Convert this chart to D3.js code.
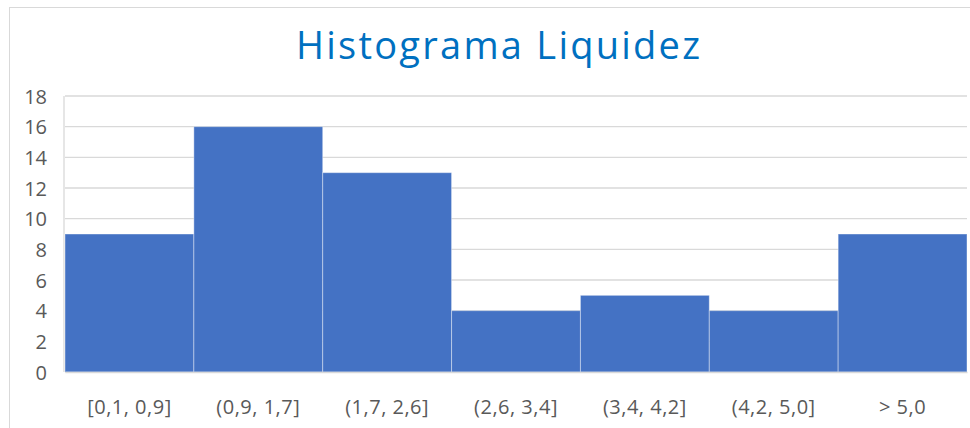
<!DOCTYPE html>
<html>
<head>
<meta charset="utf-8">
<script src="https://cdn.jsdelivr.net/npm/d3@7"></script>
<style>
  html, body { margin: 0; padding: 0; background: #fff; }
  svg { display: block; }
</style>
</head>
<body>
<svg id="chart" width="970" height="428"></svg>
<script>
const categories = ["[0,1, 0,9]", "(0,9, 1,7]", "(1,7, 2,6]", "(2,6, 3,4]", "(3,4, 4,2]", "(4,2, 5,0]", "> 5,0"];
const counts = [9, 16, 13, 4, 5, 4, 9];
const yTicks = [0, 2, 4, 6, 8, 10, 12, 14, 16, 18];
const title = "Histograma Liquidez";

const svg = d3.select("#chart");
const W = 970, H = 428;
const margin = { left: 65, right: 3, top: 96, bottom: 56 };

// outer chart border
svg.append("rect")
  .attr("x", 9.5).attr("y", 7.5)
  .attr("width", 1000).attr("height", 500)
  .attr("fill", "#fff")
  .attr("stroke", "#d9d9d9").attr("stroke-width", 1);

const x = d3.scaleBand()
  .domain(categories)
  .range([margin.left, W - margin.right])
  .padding(0);

const y = d3.scaleLinear()
  .domain([0, 18])
  .range([H - margin.bottom, margin.top]);

// gridlines
svg.append("g")
  .selectAll("line")
  .data(yTicks)
  .join("line")
  .attr("x1", margin.left).attr("x2", W - margin.right)
  .attr("y1", d => y(d)).attr("y2", d => y(d))
  .attr("stroke", "#d9d9d9").attr("stroke-width", 1.3);

// left axis line
svg.append("line")
  .attr("x1", margin.left - 1).attr("x2", margin.left - 1)
  .attr("y1", y(18)).attr("y2", y(0))
  .attr("stroke", "#d9d9d9").attr("stroke-width", 1.3);

// bars
svg.append("g")
  .selectAll("rect")
  .data(counts)
  .join("rect")
  .attr("x", (d, i) => x(categories[i]))
  .attr("y", d => y(d))
  .attr("width", x.bandwidth())
  .attr("height", d => y(0) - y(d))
  .attr("fill", "#4472c4")
  .attr("stroke", "rgba(255,255,255,0.4)")
  .attr("stroke-width", 1);

// y axis
const yAxis = d3.axisLeft(y).tickValues(yTicks).tickSize(0).tickPadding(0);
const gy = svg.append("g")
  .attr("transform", `translate(47,0)`)
  .call(yAxis);
gy.select(".domain").remove();
gy.selectAll("text")
  .attr("fill", "#595959")
  .attr("font-family", "'Open Sans', sans-serif")
  .attr("font-size", 20)
  .attr("dy", "0.36em");

// x axis
const xAxis = d3.axisBottom(x).tickSize(0).tickPadding(0);
const gx = svg.append("g")
  .attr("transform", `translate(0,${y(0)})`)
  .call(xAxis);
gx.select(".domain")
  .attr("stroke", "#d9d9d9").attr("stroke-width", 1.3);
gx.selectAll("text")
  .attr("fill", "#595959")
  .attr("font-family", "'Open Sans', sans-serif")
  .attr("font-size", 20)
  .attr("letter-spacing", "0.5px")
  .attr("dy", null)
  .attr("y", 42);

// title
svg.append("text")
  .attr("x", 498).attr("y", 59)
  .attr("text-anchor", "middle")
  .attr("fill", "#0070c0")
  .attr("font-family", "'Open Sans', sans-serif")
  .attr("font-size", 38)
  .attr("textLength", 404)
  .attr("lengthAdjust", "spacing")
  .text(title);
</script>
</body>
</html>
